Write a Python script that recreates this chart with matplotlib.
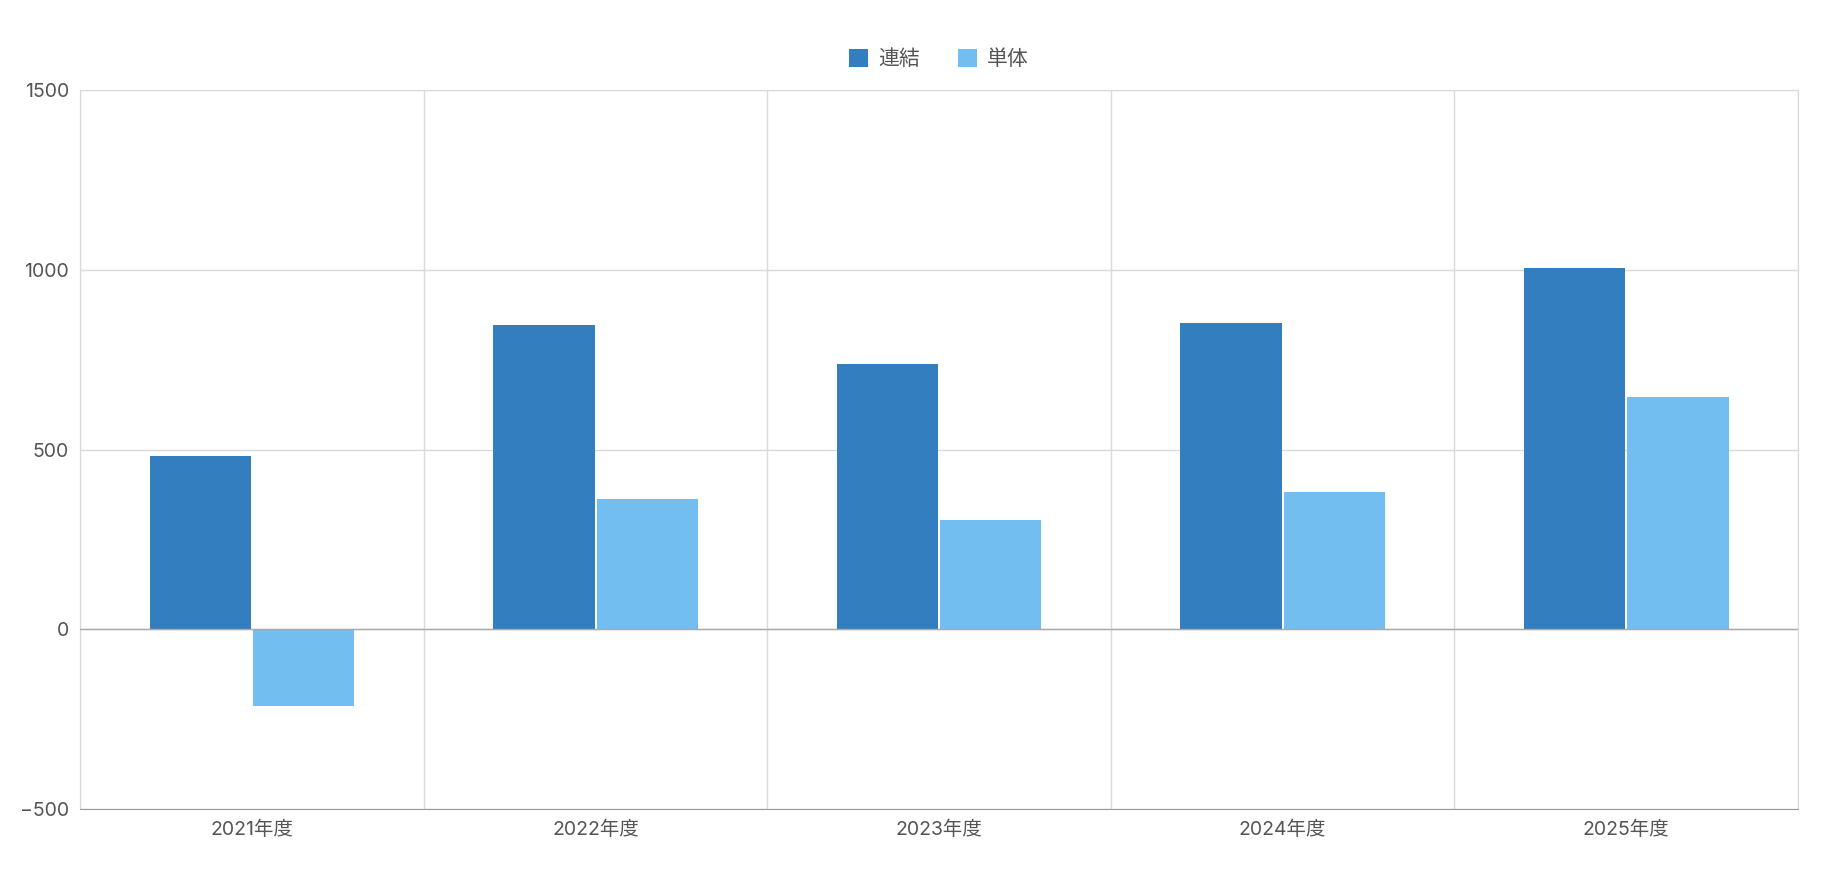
import matplotlib
matplotlib.use("Agg")
import matplotlib.pyplot as plt
import numpy as np

plt.rcParams['font.family'] = ['Inter', 'Noto Sans CJK JP', 'DejaVu Sans']

categories = ['2021年度', '2022年度', '2023年度', '2024年度', '2025年度']
renketsu = [483, 846, 739, 852, 1005]
tantai = [-214, 363, 305, 382, 645]

fig = plt.figure(figsize=(18.24, 8.75), dpi=100)
ax = fig.add_axes([0.044, 0.0754, 0.9417, 0.8217])

x = np.arange(len(categories))
w = 0.295
ax.bar(x - w / 2 - 0.003, renketsu, w, color='#337ebf', label='連結', zorder=3)
ax.bar(x + w / 2 + 0.003, tantai, w, color='#72bef0', label='単体', zorder=3)

ax.set_xlim(-0.5, len(categories) - 0.5)
ax.set_ylim(-500, 1500)
ax.set_yticks([-500, 0, 500, 1000, 1500])
ax.set_xticks(x)
ax.set_xticklabels(categories)
ax.set_xticks(np.arange(-0.5, len(categories), 1), minor=True)
ax.grid(True, axis='y', color='#d9d9d9', linewidth=1, zorder=0)
ax.grid(True, axis='x', which='minor', color='#d9d9d9', linewidth=1, zorder=0)
ax.axhline(0, color='#aaaaaa', linewidth=1, zorder=4)
ax.tick_params(axis='both', which='both', length=0, labelsize=14, colors='#555555', pad=8)
for s in ['top', 'right', 'left']:
    ax.spines[s].set_color('#d9d9d9')
ax.spines['bottom'].set_color('#999999')

ax.legend(loc='lower center', bbox_to_anchor=(0.5, 1.0), ncol=2, frameon=False,
          fontsize=15, handlelength=0.9, handleheight=0.9, columnspacing=1.8,
          handletextpad=0.5, labelcolor='#555555', borderaxespad=0.6)

fig.savefig('out.png')
